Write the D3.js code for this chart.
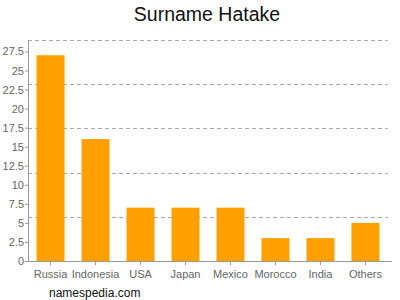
<!DOCTYPE html>
<meta charset="utf-8">
<style>
body { margin: 0; background: #fff; }
text { font-family: "Liberation Sans", Arial, sans-serif; }
.axis text { font-size: 11px; fill: #666; }
.axis path, .axis line { stroke: #999; }
.grid line { stroke: #aaa; stroke-dasharray: 4,3; }
</style>
<svg width="400" height="300"></svg>
<script src="https://d3js.org/d3.v7.min.js"></script>
<script>

var countries = ["Russia", "Indonesia", "USA", "Japan", "Mexico", "Morocco", "India", "Others"];
var counts = [27, 16, 7, 7, 7, 3, 3, 5];
var yTicks = [0, 2.5, 5, 7.5, 10, 12.5, 15, 17.5, 20, 22.5, 25, 27.5];
var gridValues = [5.8, 11.6, 17.4, 23.2, 29];

var svg = d3.select("svg");
var plotLeft = 28, plotRight = 388, plotTop = 40, plotBottom = 261;

var x = d3.scaleBand()
    .domain(countries)
    .range([plotLeft, plotRight])
    .paddingInner(0.378)
    .paddingOuter(0.19);

var y = d3.scaleLinear()
    .domain([0, 29])
    .range([plotBottom, plotTop]);

// dashed grid
svg.append("g").attr("class", "grid")
  .selectAll("line")
  .data(gridValues)
  .enter().append("line")
    .attr("x1", plotLeft)
    .attr("x2", plotRight)
    .attr("y1", function(d) { return Math.round(y(d)) + 0.5; })
    .attr("y2", function(d) { return Math.round(y(d)) + 0.5; });

// bars
svg.append("g")
  .selectAll("rect")
  .data(countries)
  .enter().append("rect")
    .attr("x", function(d) { return x(d); })
    .attr("width", x.bandwidth())
    .attr("y", function(d, i) { return y(counts[i]); })
    .attr("height", function(d, i) { return plotBottom - y(counts[i]); })
    .attr("fill", "#ffa000");

// axes
svg.append("g").attr("class", "axis")
    .attr("transform", "translate(0," + plotBottom + ")")
    .call(d3.axisBottom(x).tickSize(4).tickSizeOuter(0))
    .call(function(g) { g.select(".domain").attr("d", "M" + plotLeft + ",0.5H" + (plotRight + 4)); })
    .selectAll("text").attr("dy", "0.9em");

svg.append("g").attr("class", "axis")
    .attr("transform", "translate(" + plotLeft + ",0)")
    .call(d3.axisLeft(y).tickValues(yTicks).tickSize(3).tickSizeOuter(0)
      .tickFormat(function(d) { return String(d); }))
    .call(function(g) { g.select(".domain").attr("d", "M0.5," + plotTop + "V" + plotBottom); })
    .selectAll("text").attr("x", -4);

svg.append("text")
    .attr("x", 207)
    .attr("y", 21)
    .attr("text-anchor", "middle")
    .style("font-size", "19.5px")
    .style("fill", "#111")
    .text("Surname Hatake");

svg.append("text")
    .attr("x", 49)
    .attr("y", 297)
    .style("font-size", "12px")
    .style("fill", "#111")
    .text("namespedia.com");

</script>
